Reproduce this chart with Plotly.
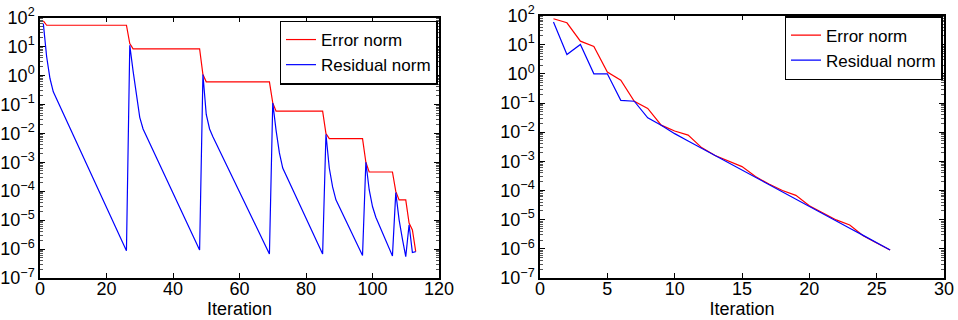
import plotly.graph_objects as go

# ---- Left panel data (vertices of the piecewise-linear curves) ----
left_err_iter = [1, 2, 26, 27, 28, 48, 49, 50, 69, 70, 71, 85, 86, 87, 97, 98, 99, 106, 107, 108, 110, 111, 112, 113]
left_err_norm = [76, 54, 54, 12.6, 8.3, 8.3, 1.07, 0.60, 0.60, 0.112, 0.058, 0.058, 9.8e-3, 6.5e-3, 6.5e-3,
                 1.0e-3, 4.6e-4, 4.6e-4, 9.8e-5, 5.0e-5, 5.0e-5, 7.9e-6, 4.6e-6, 8.1e-7]

left_res_iter = [1, 2, 3, 4, 26, 27, 28, 29, 30, 31, 48, 49, 50, 51, 52, 69, 70, 71, 72, 73, 85,
                 86, 87, 88, 89, 97, 98, 99, 100, 101, 106, 107, 108, 109, 110, 111, 112, 113]
left_res_norm = [61.7, 4.4, 0.78, 0.27, 8.7e-7, 11.0, 1.41, 0.224, 0.0355, 0.0141, 9.3e-7,
                 1.07, 0.0447, 0.0141, 7.6e-3, 6.8e-7, 0.112, 0.0126, 2.1e-3, 6.3e-4, 6.8e-7,
                 9.3e-3, 6.3e-4, 1.4e-4, 5.0e-5, 6.0e-7, 1.0e-3, 1.12e-4, 2.95e-5, 1.26e-5, 5.8e-7,
                 8.9e-5, 1.02e-5, 2.2e-6, 5.5e-7, 6.9e-6, 7.6e-7, 8.1e-7]

# ---- Right panel data ----
right_iter = list(range(1, 27))
right_err_norm = [77.6, 56.2, 13.2, 8.7, 1.15, 0.60, 0.115, 0.065, 0.0174, 0.011, 7.9e-3, 2.95e-3,
                  1.58e-3, 1.0e-3, 6.6e-4, 3.0e-4, 1.66e-4, 1.0e-4, 6.8e-5, 3.0e-5, 1.66e-5,
                  9.8e-6, 6.6e-6, 2.8e-6, 1.58e-6, 9.1e-7]
right_res_norm = [60.3, 4.57, 10.2, 1.0, 1.0, 0.123, 0.115, 0.031, 0.0174, 8.9e-3, 5.0e-3, 2.8e-3,
                  1.58e-3, 8.9e-4, 5.0e-4, 2.8e-4, 1.62e-4, 9.1e-5, 5.1e-5, 2.9e-5, 1.62e-5,
                  9.1e-6, 5.1e-6, 2.9e-6, 1.62e-6, 9.1e-7]

series_names = ["Error norm", "Residual norm"]
y_tick_exponents = [-7, -6, -5, -4, -3, -2, -1, 0, 1, 2]
y_tick_vals = [10.0 ** e for e in y_tick_exponents]
y_tick_text = ["10<sup>" + str(e).replace("-", "\u2212") + "</sup>" for e in y_tick_exponents]

RED = "#ff0000"
BLUE = "#0000ff"
FONT = "Liberation Sans, Arial, Helvetica, sans-serif"

fig = go.Figure()
fig.add_trace(go.Scatter(x=left_err_iter, y=left_err_norm, mode="lines", name=series_names[0],
                         line=dict(color=RED, width=1.2), xaxis="x", yaxis="y", legend="legend"))
fig.add_trace(go.Scatter(x=left_res_iter, y=left_res_norm, mode="lines", name=series_names[1],
                         line=dict(color=BLUE, width=1.2), xaxis="x", yaxis="y", legend="legend"))
fig.add_trace(go.Scatter(x=right_iter, y=right_err_norm, mode="lines", name=series_names[0],
                         line=dict(color=RED, width=1.2), xaxis="x2", yaxis="y2", legend="legend2"))
fig.add_trace(go.Scatter(x=right_iter, y=right_res_norm, mode="lines", name=series_names[1],
                         line=dict(color=BLUE, width=1.2), xaxis="x2", yaxis="y2", legend="legend2"))

common_x = dict(showgrid=False, zeroline=False, showline=True, linecolor="black", linewidth=1.5,
                mirror="ticks", ticks="inside", ticklen=5, tickcolor="black", tickwidth=1,
                automargin=False, ticklabelstandoff=-6,
                tickfont=dict(family=FONT, size=18, color="black"),
                title=dict(text="Iteration", font=dict(family=FONT, size=18, color="black"), standoff=2))
common_y = dict(type="log", range=[-7, 2], tickmode="array", tickvals=y_tick_vals, ticktext=y_tick_text,
                showgrid=False, zeroline=False, showline=True, linecolor="black", linewidth=1.5,
                mirror="ticks", ticks="inside", ticklen=5, tickcolor="black", tickwidth=1,
                automargin=False,
                minor=dict(ticks="inside", ticklen=3, tickcolor="#555", dtick="D1", showgrid=False),
                tickfont=dict(family=FONT, size=18, color="black"))

legend_style = dict(bgcolor="white", bordercolor="black", borderwidth=1.5,
                    font=dict(family=FONT, size=17, color="black"),
                    xanchor="right", yanchor="top", tracegroupgap=0, itemwidth=30)

fig.update_layout(
    template="none",
    width=958, height=320,
    margin=dict(l=0, r=0, t=0, b=0, pad=0, autoexpand=False),
    paper_bgcolor="white", plot_bgcolor="white",
    xaxis=dict(domain=[40 / 958, 439 / 958], range=[0, 120], dtick=20, anchor="y", **common_x),
    yaxis=dict(domain=[42 / 320, 302.5 / 320], anchor="x", **common_y),
    xaxis2=dict(domain=[540 / 958, 944 / 958], range=[0, 30], dtick=5, anchor="y2", **common_x),
    yaxis2=dict(domain=[42 / 320, 304.5 / 320], anchor="x2", **common_y),
    legend=dict(x=437.5 / 958, y=1 - 20.5 / 320, **legend_style),
    legend2=dict(x=942.5 / 958, y=1 - 16 / 320, **legend_style),
    showlegend=True,
)

fig.write_html("out.html")
